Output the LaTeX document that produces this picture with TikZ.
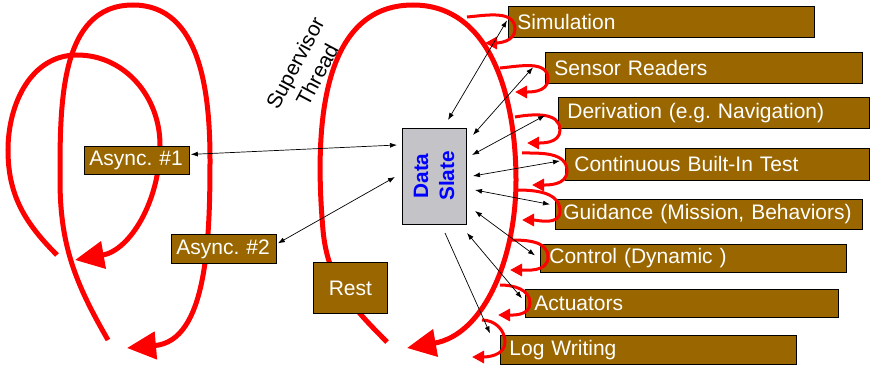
\documentclass[tikz,border=0pt]{standalone}
\usepackage{fontspec}
\setmainfont{Liberation Sans}
\usetikzlibrary{arrows.meta, calc}
\definecolor{threadred}{RGB}{255,0,0}
\definecolor{taskbrown}{RGB}{153,102,0}
\definecolor{slategray}{RGB}{196,196,200}
\definecolor{slateblue}{RGB}{0,0,255}
\frenchspacing

\begin{document}
\begin{tikzpicture}[x=1pt, y=1pt,
  bigloop/.style={line width=5pt, threadred, -{Triangle[length=29pt,width=27pt]}},
  smallloop/.style={line width=3pt, threadred, -{Triangle[length=12pt,width=12pt]}},
  link/.style={{Latex[length=7pt,width=5pt]}-{Latex[length=7pt,width=5pt]}, line width=0.7pt},
  linkto/.style={-{Latex[length=7pt,width=5pt]}, line width=0.7pt},
  task/.style={anchor=north west, draw=black, line width=0.8pt, fill=taskbrown, text=white,
    font=\fontsize{21}{24}\selectfont, align=left, inner xsep=9pt, inner ysep=0pt, text width=#1},
  slatebox/.style={draw=black, line width=0.8pt, fill=slategray, text=slateblue, align=center,
    font=\fontsize{20.8}{26}\selectfont\bfseries, minimum width=96pt, minimum height=64pt, inner sep=0pt}
]
\useasboundingbox (0,0) rectangle (872,-371);

% thread loops (behind the boxes)
\draw[bigloop] (57,-255) to[out=135,in=-90] (8,-150) to[out=90,in=180] (77,-55)
  to[out=0,in=90] (160,-145) to[out=-90,in=10] (75,-260);
\draw[bigloop] (108,-340) to[out=120,in=-90] (60,-180) to[out=90,in=180] (133,-5)
  to[out=0,in=90] (210,-160) to[out=-90,in=5] (127,-348);
\draw[bigloop] (387,-342) to[out=135,in=-85] (323,-230) to[out=95,in=180] (413,-5)
  to[out=0,in=90] (516,-180) to[out=-90,in=10] (407,-348);

\node[rotate=62, align=center, font=\fontsize{21}{25}\selectfont] (sup) at (306,-69) {Supervisor\\Thread};

% tasks
\node[task=288pt, minimum height=31pt] (sim)  at (508,-6)   {Simulation};
\node[task=299pt, minimum height=31pt] (sen)  at (545,-52)  {Sensor Readers};
\node[task=293pt, minimum height=31pt] (der)  at (558,-97)  {Derivation (e.g. Navigation)};
\node[task=286pt, minimum height=32pt] (cbit) at (565,-148) {Continuous Built-In Test};
\node[task=291pt, inner xsep=8pt, minimum height=30pt] (gui) at (555,-199) {Guidance (Mission, Behaviors)};
\node[task=288pt, minimum height=28pt] (ctl)  at (540,-244) {Control (Dynamic )};
\node[task=295pt, minimum height=28pt] (act)  at (525,-289) {Actuators};
\node[task=278pt, minimum height=29pt] (log)  at (500,-335) {Log Writing};

\node[task=95pt, inner xsep=5pt, minimum height=28pt] (asy1) at (84,-146)  {Async. \#1};
\node[task=95pt, inner xsep=5pt, minimum height=29pt] (asy2) at (171,-234) {Async. \#2};
\node[task=60pt, align=center, inner xsep=7pt, minimum height=51pt] (rest) at (313,-262) {Rest};

\node[slatebox, rotate=90] (slate) at (434,-176) {Data\\Slate};

% task loops
\draw[smallloop] (467,-17)  to[out=5,in=90]  (515,-29)  to[out=-90,in=0] (485,-43);
\draw[smallloop] (500,-68)  to[out=5,in=90]  (548,-79)  to[out=-90,in=0] (515,-92);
\draw[smallloop] (515,-117) to[out=10,in=90] (560,-130) to[out=-90,in=0] (527,-143);
\draw[smallloop] (522,-153) to[out=0,in=90]  (567,-171) to[out=-90,in=0] (532,-185);
\draw[smallloop] (517,-190) to[out=0,in=90]  (560,-211) to[out=-90,in=0] (522,-220);
\draw[smallloop] (510,-240) to[out=0,in=90]  (548,-257) to[out=-90,in=0] (510,-270);
\draw[smallloop] (500,-285) to[out=0,in=90]  (530,-303) to[out=-90,in=0] (498,-315);
\draw[smallloop] (482,-320) to[out=0,in=90]  (505,-342) to[out=-90,in=0] (472,-357);

% data slate links
\coordinate (ds1) at (448,-120);
\coordinate (ds2) at (473,-135);
\coordinate (ds3) at (472,-155);
\coordinate (ds4) at (473,-176);
\coordinate (ds5) at (475,-190);
\coordinate (ds6) at (475,-211);
\coordinate (ds7) at (467,-233);
\coordinate (ds8) at (445,-233);
\coordinate (ds9) at (397,-145);
\coordinate (ds10) at (395,-177);

\draw[link] (ds1) -- ($(sim.west)+(-1,1.5)$);
\draw[link] (ds2) -- ($(sen.west)+(-12,0.5)$);
\draw[link] (ds3) -- ($(der.west)+(-13,-2.5)$);
\draw[link] (ds4) -- ($(cbit.west)+(-5,3.5)$);
\draw[link] (ds5) -- ($(gui.west)+(-5,10)$);
\draw[link] (ds6) -- ($(ctl.west)+(-5,3)$);
\draw[link] (ds7) -- ($(act.west)+(-3,5)$);
\draw[linkto] (ds8) -- ($(log.west)+(-10,16.5)$);
\draw[link] (ds9) -- ($(asy1.east)+(1,6)$);
\draw[link] (ds10) -- ($(asy2.east)+(1,5.5)$);
\end{tikzpicture}
\end{document}
